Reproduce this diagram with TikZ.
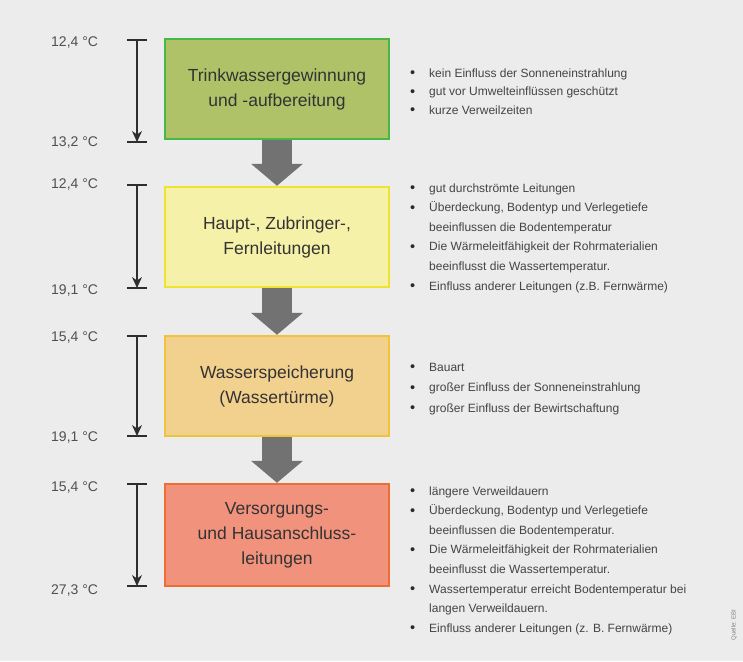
\documentclass[tikz,border=0pt]{standalone}
\usepackage{fontspec}
\setmainfont{Liberation Sans}
\usetikzlibrary{arrows.meta}
\definecolor{bgc}{HTML}{ECECEC}
\definecolor{fillA}{HTML}{B0C268}
\definecolor{drawA}{HTML}{45B845}
\definecolor{fillB}{HTML}{F6F1A8}
\definecolor{drawB}{HTML}{EEE430}
\definecolor{fillC}{HTML}{F2D08E}
\definecolor{drawC}{HTML}{EFC43A}
\definecolor{fillD}{HTML}{F0927C}
\definecolor{drawD}{HTML}{EE6D35}
\definecolor{flowc}{HTML}{727272}
\definecolor{titlec}{HTML}{333333}
\definecolor{tempc}{HTML}{505050}
\definecolor{listc}{HTML}{444444}
\definecolor{bulc}{HTML}{2A2A2A}
\definecolor{brc}{HTML}{2E2E2E}
\newcommand\bi[1]{\makebox[19pt][l]{\raisebox{-0.6pt}{\textcolor{bulc}{\fontsize{14.5}{0}\selectfont •}}}#1}
\newcommand\ci[1]{\hspace*{19pt}#1}
\begin{document}
\begin{tikzpicture}[x=1pt,y=-1pt,
  box/.style={draw, line width=2.5pt, minimum width=224pt, minimum height=100pt,
    align=center, font=\fontsize{17.5}{25}\selectfont, text=titlec, inner sep=0pt},
  flow/.style={draw=flowc, line width=30pt,
    -{Triangle[width=52pt,length=22pt,line width=0pt]}},
  templbl/.style={anchor=west, font=\fontsize{14}{16}\selectfont, text=tempc, inner sep=0pt},
  tspan/.style={draw=brc, line width=1.2pt, -{Stealth[length=11pt,width=10pt]}},
  tickln/.style={draw=brc, line width=1.2pt},
  blist/.style={anchor=base west, inner sep=0pt, text=listc},
]
\fill[bgc] (0,0) rectangle (743,661);
\useasboundingbox (0,0) rectangle (743,661);

% boxes
\node[box, draw=drawA, fill=fillA] (b1) at (277,89) {Trinkwassergewinnung\\und -aufbereitung};
\node[box, draw=drawB, fill=fillB] (b2) at (277,237) {Haupt-, Zubringer-,\\Fernleitungen};
\node[box, draw=drawC, fill=fillC] (b3) at (277,386) {Wasserspeicherung\\(Wassertürme)};
\node[box, draw=drawD, fill=fillD, minimum height=102pt] (b4) at (277,535) {Versorgungs-\\und Hausanschluss-\\leitungen};

% flow arrows
\draw[flow] (b1.south) -- (b2.north);
\draw[flow] (b2.south) -- (b3.north);
\draw[flow] (b3.south) -- (b4.north);

% temperature ranges
\coordinate (r1a) at (137,40);  \coordinate (r1b) at (137,142);
\coordinate (r2a) at (137,185); \coordinate (r2b) at (137,288);
\coordinate (r3a) at (137,336); \coordinate (r3b) at (137,436);
\coordinate (r4a) at (137,484); \coordinate (r4b) at (137,586);
\foreach \r in {1,2,3,4}{
  \draw[tickln] (r\r a) ++(-10,0) -- ++(20,0);
  \draw[tickln] (r\r b) ++(-10,0) -- ++(20,0);
  \draw[tspan] (r\r a) -- (r\r b);
}
\node[templbl] (t1a) at (51,43) {12,4 °C};
\node[templbl] (t1b) at (51,143) {13,2 °C};
\node[templbl] (t2a) at (51,185) {12,4 °C};
\node[templbl] (t2b) at (51,291) {19,1 °C};
\node[templbl] (t3a) at (51,338) {15,4 °C};
\node[templbl] (t3b) at (51,438) {19,1 °C};
\node[templbl] (t4a) at (51,487) {15,4 °C};
\node[templbl] (t4b) at (51,590) {27,3 °C};

% bullet lists
\node[blist, font=\fontsize{12}{18.5}\selectfont] (l1) at (410,77) {\parbox[t]{320pt}{%
\bi{kein Einfluss der Sonneneinstrahlung}\\
\bi{gut vor Umwelteinflüssen geschützt}\\
\bi{kurze Verweilzeiten}}};
\node[blist, font=\fontsize{12}{19.6}\selectfont] (l2) at (410,192) {\parbox[t]{320pt}{%
\bi{gut durchströmte Leitungen}\\
\bi{Überdeckung, Bodentyp und Verlegetiefe}\\
\ci{beeinflussen die Bodentemperatur}\\
\bi{Die Wärmeleitfähigkeit der Rohrmaterialien}\\
\ci{beeinflusst die Wassertemperatur.}\\
\bi{Einfluss anderer Leitungen (z.B. Fernwärme)}}};
\node[blist, font=\fontsize{12}{20.5}\selectfont] (l3) at (410,371) {\parbox[t]{320pt}{%
\bi{Bauart}\\
\bi{großer Einfluss der Sonneneinstrahlung}\\
\bi{großer Einfluss der Bewirtschaftung}}};
\node[blist, font=\fontsize{12}{19.6}\selectfont] (l4) at (410,495) {\parbox[t]{320pt}{%
\bi{längere Verweildauern}\\
\bi{Überdeckung, Bodentyp und Verlegetiefe}\\
\ci{beeinflussen die Bodentemperatur.}\\
\bi{Die Wärmeleitfähigkeit der Rohrmaterialien}\\
\ci{beeinflusst die Wassertemperatur.}\\
\bi{Wassertemperatur erreicht Bodentemperatur bei}\\
\ci{langen Verweildauern.}\\
\bi{Einfluss anderer Leitungen (z. B. Fernwärme)}}};

% source
\node[rotate=90, font=\fontsize{6}{7}\selectfont, text=gray, inner sep=0pt] (src) at (734,625) {Quelle: EBI};
\end{tikzpicture}
\end{document}
